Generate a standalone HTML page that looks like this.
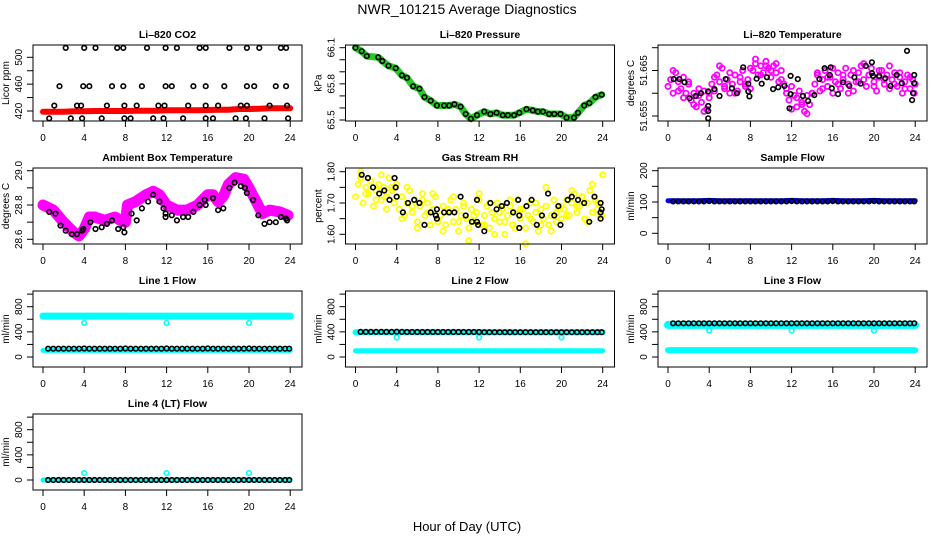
<!DOCTYPE html>
<html><head><meta charset="utf-8">
<style>
html,body{margin:0;padding:0;background:#fff;}
svg{display:block;font-family:"Liberation Sans",sans-serif;}
</style></head>
<body>
<svg id="chart" width="936" height="540" viewBox="0 0 936 540">
<text x="467" y="14" text-anchor="middle" font-size="14">NWR_101215  Average Diagnostics</text>
<text x="467" y="531" text-anchor="middle" font-size="13">Hour of Day (UTC)</text>
</svg>
<script>
// ---- data ----
const xTicks = [0,4,8,12,16,20,24];
const hourly = [0,1,2,3,4,5,6,7,8,9,10,11,12,13,14,15,16,17,18,19,20,21,22,23,24];
const flowHours = [0.5,1,1.5,2,2.5,3,3.5,4,4.5,5,5.5,6,6.5,7,7.5,8,8.5,9,9.5,10,10.5,11,11.5,12,12.5,13,13.5,14,14.5,15,15.5,16,16.5,17,17.5,18,18.5,19,19.5,20,20.5,21,21.5,22,22.5,23,23.5,23.9];
const quarterHours = [0,0.25,0.5,0.75,1,1.25,1.5,1.75,2,2.25,2.5,2.75,3,3.25,3.5,3.75,4,4.25,4.5,4.75,5,5.25,5.5,5.75,6,6.25,6.5,6.75,7,7.25,7.5,7.75,8,8.25,8.5,8.75,9,9.25,9.5,9.75,10,10.25,10.5,10.75,11,11.25,11.5,11.75,12,12.25,12.5,12.75,13,13.25,13.5,13.75,14,14.25,14.5,14.75,15,15.25,15.5,15.75,16,16.25,16.5,16.75,17,17.25,17.5,17.75,18,18.25,18.5,18.75,19,19.25,19.5,19.75,20,20.25,20.5,20.75,21,21.25,21.5,21.75,22,22.25,22.5,22.75,23,23.25,23.5,23.75,24];

// CO2
const co2Red = [419,419,419,419.5,419.5,420,420,420,420,420.5,420.5,420.5,421,421,421,421,421.5,422,422,423,423,423.5,424,424,424];
const co2BlackHours = [2.2,4.0,5.1,7.2,7.8,10.1,11.9,13.0,15.2,15.8,18.1,19.8,21.0,23.1,23.6, 1.6,3.9,4.5,6.7,7.8,9.6,11.9,12.5,14.6,15.8,17.6,19.8,20.5,22.6,23.6, 1.1,3.3,3.7,6.2,7.9,9.1,11.2,11.8,14.1,15.8,17.0,19.2,19.8,22.0,23.7, 0.6,2.7,3.8,5.7,7.9,8.5,10.7,11.7,13.6,15.8,16.5,18.7,19.7,21.5,23.8];
const co2BlackValues = [514,514,514,514,514,514,514,514,514,514,514,514,514,514,514, 457,457,457,457,457,457,457,457,457,457,457,457,457,457,457, 428,428,428,428,428,428,428,428,428,428,428,428,428,428,428, 409,409,409,409,409,409,409,409,409,409,409,409,409,409,409];

// Pressure
const pressHours = [0,0.6,1.1,2.2,2.6,3.2,3.9,4.5,5.0,5.6,6.2,6.7,7.3,7.9,8.6,9.1,9.6,10.2,10.7,11.2,11.8,12.5,13.1,13.7,14.3,14.8,15.4,15.9,16.6,17.2,17.7,18.2,18.8,19.3,19.9,20.5,21.2,21.6,22.2,22.7,23.3,23.9];
const pressValues = [66.1,66.07,66.03,66.02,65.99,65.95,65.93,65.87,65.85,65.78,65.76,65.69,65.66,65.62,65.62,65.62,65.63,65.61,65.55,65.51,65.54,65.57,65.55,65.56,65.54,65.54,65.54,65.56,65.59,65.58,65.57,65.57,65.55,65.55,65.55,65.52,65.52,65.56,65.62,65.64,65.69,65.71];

// Li-820 temperature
const tempMagenta = [51.6615,51.6630,51.6600,51.6645,51.6625,51.6610,51.6635,51.6600,51.6620,
51.6585,51.6600,51.6570,51.6595,51.6580,51.6605,51.6565,51.6590,
51.6620,51.6605,51.6640,51.6625,51.6655,51.6610,51.6630,51.6600,51.6620,51.6640,51.6605,51.6625,51.6650,51.6615,
51.6630,51.6610,51.6650,51.6665,51.6640,51.6660,51.6645,51.6670,51.6655,51.6635,51.6660,51.6645,51.6625,51.6650,
51.6620,51.6600,51.6585,51.6615,51.6595,51.6570,51.6605,51.6580,51.6560,51.6595,51.6575,51.6600,
51.6620,51.6640,51.6605,51.6630,51.6650,51.6615,51.6635,51.6600,51.6625,51.6645,51.6610,51.6630,51.6655,51.6620,51.6640,51.6605,51.6625,51.6645,51.6660,51.6630,51.6615,51.6640,51.6655,51.6625,51.6605,51.6635,51.6650,51.6620,51.6640,51.6610,51.6630,51.6645,51.6615,51.6635,51.6600,51.6625,51.6640,51.6610,51.6630,51.6620];
const tempMagenta2 = [51.6650,51.6605,51.6590,51.6625,51.6575,51.6610,51.6560,51.6600,
51.6635,51.6660,51.6615,51.6645,51.6600,51.6635,51.6620,
51.6655,51.6675,51.6640,51.6660,51.6650,51.6665,51.6630,
51.6610,51.6565,51.6590,51.6575,51.6555,51.6600,
51.6645,51.6610,51.6635,51.6655,51.6620,51.6640,51.6600,51.6650,51.6625,51.6665,51.6640,51.6615,51.6650,51.6630,51.6660,51.6620,51.6645,51.6610,51.6635,51.6600];
const tempBlackHours = [0.55,1.1,1.6,2.1,2.7,3.2,3.9,3.9,3.9,3.9,4.5,5.0,5.6,6.2,6.7,7.3,7.8,7.8,7.9,8.6,9.1,9.6,10.2,10.7,11.3,11.9,11.9,11.8,12.6,13.1,13.6,14.2,14.7,15.2,15.8,15.7,15.9,16.5,17.0,17.6,18.1,18.7,19.2,19.8,19.8,19.9,20.5,21.1,21.6,22.2,22.7,23.2,23.9,23.9,23.8,23.7];
const tempBlackValues = [51.6631,51.6631,51.6624,51.6589,51.6594,51.6600,51.6604,51.6572,51.6561,51.6545,51.6609,51.6594,51.6631,51.6611,51.6600,51.6657,51.6621,51.6604,51.6593,51.6632,51.6621,51.6635,51.6609,51.6613,51.6616,51.6638,51.6598,51.6567,51.6631,51.6594,51.6583,51.6596,51.6631,51.6655,51.6657,51.6640,51.6611,51.6598,51.6624,51.6616,51.6635,51.6621,51.6660,51.6668,51.6644,51.6638,51.6638,51.6633,51.6616,51.6640,51.6622,51.6693,51.6640,51.6622,51.6600,51.6585];

// Ambient box temperature
const ambHours = [0,1,2,3,3.5,4,4.5,5,6,7,7.5,8,8.2,9,10,10.7,11.3,12,13,14,15,16,16.5,17,17.5,18,18.7,19.5,20,20.7,21.3,22,23,23.8];
const ambValues = [28.80,28.77,28.70,28.64,28.62,28.66,28.73,28.73,28.71,28.73,28.71,28.70,28.80,28.82,28.86,28.88,28.86,28.80,28.77,28.77,28.80,28.86,28.86,28.82,28.85,28.92,28.96,28.95,28.90,28.82,28.75,28.77,28.76,28.74];
const ambBlackHours = [0.6,1.2,1.7,2.2,2.8,3.3,3.8,3.9,4.6,5.1,5.7,6.2,6.7,7.3,7.8,7.9,8.6,9.1,9.6,10.2,10.7,11.3,11.7,11.9,11.9,12.5,13.0,13.6,14.1,14.6,15.2,15.7,15.8,16.5,17.0,17.5,18.1,18.6,19.2,19.6,19.8,20.4,20.9,21.5,22.0,22.6,23.1,23.6,23.7];
const ambBlackValues = [28.76,28.75,28.68,28.65,28.63,28.63,28.65,28.66,28.70,28.66,28.67,28.69,28.71,28.66,28.67,28.64,28.75,28.71,28.78,28.82,28.86,28.82,28.78,28.75,28.73,28.74,28.71,28.73,28.73,28.76,28.80,28.83,28.80,28.84,28.77,28.78,28.90,28.93,28.91,28.90,28.87,28.83,28.74,28.69,28.70,28.70,28.73,28.72,28.71];

// Gas stream RH
const rhYellow = [1.72,1.76,1.78,1.70,1.75,1.73,1.77,1.69,1.74,1.76,1.71,1.75,1.72,1.78,1.74,1.70,1.76,
1.68,1.72,1.66,1.70,1.74,1.67,1.71,1.64,1.69,1.73,1.66,1.70,1.63,1.68,1.72,1.65,
1.66,1.69,1.63,1.67,1.71,1.64,1.68,1.61,1.66,1.70,1.65,1.62,1.68,1.64,1.67,1.71,1.63,1.66,1.69,1.62,1.67,1.65,1.70,1.64,1.68,1.60,1.66,1.69,1.63,1.67,1.71,1.65,1.68,1.62,1.66,1.70,1.64,1.67,1.61,1.68,1.65,1.69,1.63,1.66,1.71,1.64,1.68,1.65,
1.68,1.71,1.66,1.70,1.73,1.67,1.69,1.72,1.65,1.70,1.74,1.67,1.71,1.68,1.66,1.79];
const rhYellow2 = [1.80,1.73,1.77,1.71,1.79,1.68,1.75,1.72,
1.65,1.75,1.69,1.62,1.71,1.67,1.73,1.64,
1.61,1.68,1.72,1.64,1.69,1.58,1.66,1.73,1.63,1.70,1.60,1.67,1.64,1.71,1.62,1.68,1.57,1.65,1.70,1.63,1.75,1.61,1.67,1.69,
1.66,1.74,1.69,1.72,1.64,1.76,1.70,1.66];
const rhBlackHours = [0.6,1.2,1.7,2.3,2.8,3.3,3.8,3.9,4.0,4.6,5.1,5.7,6.2,6.7,7.3,7.9,7.8,7.9,8.6,9.1,9.6,10.2,10.7,11.3,11.8,11.8,11.9,12.5,13.1,13.7,14.2,14.7,15.3,15.8,15.9,15.9,16.6,17.1,17.6,18.1,18.7,19.3,19.7,19.9,20.6,21.0,21.6,22.2,22.7,23.2,23.8,23.8,23.9,23.8];
const rhBlackValues = [1.79,1.78,1.75,1.73,1.74,1.71,1.78,1.75,1.72,1.67,1.70,1.71,1.70,1.63,1.67,1.68,1.66,1.65,1.67,1.67,1.67,1.72,1.66,1.64,1.71,1.64,1.63,1.61,1.70,1.68,1.69,1.70,1.67,1.71,1.66,1.62,1.69,1.71,1.63,1.66,1.73,1.66,1.69,1.63,1.71,1.72,1.71,1.70,1.64,1.72,1.70,1.67,1.68,1.65];

// Sample flow
const sampleBlue = [104,104,104,104,105,104,104,104,104,104,104,104,105,104,104,104,105,104,104,104,105,104,104,104,104];
const sampleBlack = [102,102,102,102,102,102,102,103,102,102,102,102,102,102,102,102,102,102,102,102,102,102,102,103,102,102,102,102,102,102,102,103,102,102,102,102,102,102,102,103,102,102,102,102,102,102,102,102];

// Line flows
const line1CyanHigh = [650,650,650,650,650,650,650,650,650,650,650,650,650,650,650,650,650,650,650,650,650,650,650,650,650];
const line1CyanLow = [105,105,105,105,105,105,105,105,105,105,105,105,105,105,105,105,105,105,105,105,105,105,105,105,105];
const line1Black = [132,132,132,132,132,132,132,135,132,132,132,132,132,132,132,135,132,132,132,132,132,132,132,135,132,132,132,132,132,132,132,135,132,132,132,132,132,132,132,135,132,132,132,132,132,132,132,132];
const outlierHours = [4,12,20];
const line1Outliers = [540,540,540];
const line2CyanHigh = [395,395,395,395,395,395,395,395,395,395,395,395,395,395,395,395,395,395,395,395,395,395,395,395,395];
const line2CyanLow = [100,100,100,100,100,100,100,100,100,100,100,100,100,100,100,100,100,100,100,100,100,100,100,100,100];
const line2Black = [400,400,400,400,400,400,400,402,400,398,398,398,398,398,398,398,398,398,398,398,398,398,398,398,395,395,395,395,395,395,395,395,395,395,395,395,395,395,395,395,395,395,395,395,395,395,395,395];
const line2Outliers = [310,310,310];
const line3CyanHigh = [510,510,510,510,510,510,510,510,510,510,510,510,510,510,510,510,510,510,510,510,510,510,510,510,510];
const line3CyanLow = [110,110,110,110,110,110,110,110,110,110,110,110,110,110,110,110,110,110,110,110,110,110,110,110,110];
const line3Black = [536,536,536,536,536,536,536,536,536,536,536,536,536,536,536,536,536,536,536,536,536,536,536,536,536,536,536,536,536,536,536,536,536,536,536,536,536,536,536,536,536,536,536,536,536,536,536,536];
const line3Outliers = [420,420,420];
const line4Cyan = [0,0,0,0,0,0,0,0,0,0,0,0,0,0,0,0,0,0,0,0,0,0,0,0,0];
const line4Black = [0,0,0,0,0,0,0,0,0,0,0,0,0,0,0,0,0,0,0,0,0,0,0,0,0,0,0,0,0,0,0,0,0,0,0,0,0,0,0,0,0,0,0,0,0,0,0,0];
const line4Outliers = [110,110,110];

const NS = 'http://www.w3.org/2000/svg';
const svg = document.getElementById('chart');
function mk(tag, attrs, parent){const e=document.createElementNS(NS,tag);for(const k in attrs)e.setAttribute(k,attrs[k]);(parent||svg).appendChild(e);return e;}

function panel(opt){
  const left = 33 + 312.5*opt.col, top = 45 + 123*opt.row, W = 269, H = 76, bottom = top+H;
  const x0 = left + 10;
  const xs = h => x0 + h*10.3;
  const rowOff = 123*opt.row;
  const ys = v => (opt.y0px+rowOff) + (v-opt.v0)*((opt.y1px-opt.y0px)/(opt.v1-opt.v0));
  const g = mk('g',{});
  
  
  const t = mk('text',{x:left+W/2,y:top-7,'text-anchor':'middle','font-size':'10.5','font-weight':'bold'},g);
  t.textContent = opt.title;
  
  
  const marks = mk('g',{},g);
  
  
  (opt.series||[]).forEach(s=>{
    if(s.band){
      const d = s.x.map((h,i)=>(i?'L':'M')+xs(h).toFixed(1)+' '+ys(s.y[i]).toFixed(1)).join(' ');
      const p = mk('path',{d:d,fill:'none',stroke:s.color,'stroke-width':s.width,'stroke-linejoin':'round','stroke-linecap':'round'},marks);
      
      
    }
    if(s.pts){
      s.x.forEach((h,i)=>{
        const c = mk('circle',{cx:xs(h).toFixed(1),cy:ys(s.y[i]).toFixed(1),r:s.r||2.3,fill:'none',stroke:s.color,'stroke-width':s.sw||1.6},marks);
        
        
      });
    }
  });
  const b = mk('rect',{x:left,y:top,width:W,height:H,fill:'none',stroke:'#000','stroke-width':1},g);
  
  
  const xa = mk('g',{},g);
  
  
  mk('line',{x1:xs(0),x2:xs(24),y1:bottom,y2:bottom,stroke:'#000'},xa);
  xTicks.forEach(v=>{
    mk('line',{x1:xs(v),x2:xs(v),y1:bottom,y2:bottom+6,stroke:'#000'},xa);
    const l = mk('text',{x:xs(v),y:bottom+20,'text-anchor':'middle','font-size':'10'},xa);
    l.textContent = v;
  });
  const ya = mk('g',{},g);
  
  
  const tk = opt.ticks;
  mk('line',{x1:left,x2:left,y1:ys(tk[0]),y2:ys(tk[tk.length-1]),stroke:'#000'},ya);
  tk.forEach(v=>mk('line',{x1:left-6,x2:left,y1:ys(v),y2:ys(v),stroke:'#000'},ya));
  opt.labels.forEach((lab,i)=>{
    const v = opt.labelVals[i], y = ys(v), x = left-11;
    const l = mk('text',{x:x,y:y,'text-anchor':'middle','font-size':'10',transform:`rotate(-90 ${x} ${y})`},ya);
    l.textContent = lab;
  });
  const yl = mk('text',{x:left-24,y:top+H/2,'text-anchor':'middle','font-size':'10',transform:`rotate(-90 ${left-24} ${top+H/2})`},g);
  yl.textContent = opt.ylab;
  
  
}

const K='#000', C='#00ffff';
panel({name:'co2-panel',title:'Li\u2013820 CO2',col:0,row:0,ylab:'Licor ppm',v0:420,y0px:111,v1:500,y1px:57.3,
  ticks:[420,440,460,480,500],labels:['420','460','500'],labelVals:[420,460,500],
  series:[{name:'co2-red',band:true,pts:false,x:hourly,y:co2Red,color:'#ff0000',width:6},
          {name:'co2-black',pts:true,x:co2BlackHours,y:co2BlackValues,color:K}]});
panel({name:'pressure-panel',title:'Li\u2013820 Pressure',col:1,row:0,ylab:'kPa',v0:65.5,y0px:120,v1:66.1,y1px:47.7,
  ticks:[65.5,65.6,65.7,65.8,65.9,66.0,66.1],labels:['65.5','65.8','66.1'],labelVals:[65.5,65.8,66.1],
  series:[{name:'pressure-green',band:true,x:pressHours,y:pressValues,color:'#22cc22',width:7},
          {name:'pressure-black',pts:true,x:pressHours,y:pressValues,color:K}]});
panel({name:'temperature-panel',title:'Li\u2013820 Temperature',col:2,row:0,ylab:'degrees C',v0:51.655,y0px:116,v1:51.670,y1px:47.7,
  ticks:[51.655,51.660,51.665,51.670],labels:['51.655','51.665'],labelVals:[51.655,51.665],
  series:[{name:'temperature-magenta',pts:true,x:quarterHours,y:tempMagenta,color:'#ff00ff',r:2.6,sw:1.8},
          {name:'temperature-magenta-b',pts:true,x:flowHours,y:tempMagenta2,color:'#ff00ff',r:2.6,sw:1.8},
          {name:'temperature-black',pts:true,x:tempBlackHours,y:tempBlackValues,color:K}]});
panel({name:'ambient-panel',title:'Ambient Box Temperature',col:0,row:1,ylab:'degrees C',v0:28.6,y0px:239.3-123,v1:29.0,y1px:170.7-123,
  ticks:[28.6,28.7,28.8,28.9,29.0],labels:['28.6','28.8','29.0'],labelVals:[28.6,28.8,29.0],
  series:[{name:'ambient-magenta',band:true,x:ambHours,y:ambValues,color:'#ff00ff',width:11},
          {name:'ambient-black',pts:true,x:ambBlackHours,y:ambBlackValues,color:K}]});
panel({name:'rh-panel',title:'Gas Stream RH',col:1,row:1,ylab:'percent',v0:1.60,y0px:234.3-123,v1:1.80,y1px:171.7-123,
  ticks:[1.60,1.65,1.70,1.75,1.80],labels:['1.60','1.70','1.80'],labelVals:[1.60,1.70,1.80],
  series:[{name:'rh-yellow',pts:true,x:quarterHours,y:rhYellow,color:'#ffff00',r:2.6,sw:1.8},
          {name:'rh-yellow-b',pts:true,x:flowHours,y:rhYellow2,color:'#ffff00',r:2.6,sw:1.8},
          {name:'rh-black',pts:true,x:rhBlackHours,y:rhBlackValues,color:K}]});
panel({name:'sample-flow-panel',title:'Sample Flow',col:2,row:1,ylab:'ml/min',v0:0,y0px:233.3-123,v1:200,y1px:170.7-123,
  ticks:[0,50,100,150,200],labels:['0','100','200'],labelVals:[0,100,200],
  series:[{name:'sample-blue',band:true,x:hourly,y:sampleBlue,color:'#0000ff',width:5},
          {name:'sample-black',pts:true,x:flowHours,y:sampleBlack,color:K}]});
const flowTicks=[0,200,400,600,800,1000];
function flow(name,title,col,row,series){
  panel({name:name,title:title,col:col,row:row,ylab:'ml/min',v0:0,y0px:357-246,v1:800,y1px:306.7-246,
    ticks:flowTicks,labels:['0','400','800'],labelVals:[0,400,800],series:series});
}
flow('line1-panel','Line 1 Flow',0,2,[
  {name:'line1-cyan-high',band:true,x:hourly,y:line1CyanHigh,color:C,width:7},
  {name:'line1-cyan-low',band:true,x:hourly,y:line1CyanLow,color:C,width:5},
  {name:'line1-cyan-outlier',pts:true,x:outlierHours,y:line1Outliers,color:C},
  {name:'line1-black',pts:true,x:flowHours,y:line1Black,color:K}]);
flow('line2-panel','Line 2 Flow',1,2,[
  {name:'line2-cyan-high',band:true,x:hourly,y:line2CyanHigh,color:C,width:6},
  {name:'line2-cyan-low',band:true,x:hourly,y:line2CyanLow,color:C,width:5},
  {name:'line2-cyan-outlier',pts:true,x:outlierHours,y:line2Outliers,color:C},
  {name:'line2-black',pts:true,x:flowHours,y:line2Black,color:K}]);
flow('line3-panel','Line 3 Flow',2,2,[
  {name:'line3-cyan-high',band:true,x:hourly,y:line3CyanHigh,color:C,width:8},
  {name:'line3-cyan-low',band:true,x:hourly,y:line3CyanLow,color:C,width:6},
  {name:'line3-cyan-outlier',pts:true,x:outlierHours,y:line3Outliers,color:C},
  {name:'line3-black',pts:true,x:flowHours,y:line3Black,color:K}]);
flow('line4-panel','Line 4 (LT) Flow',0,3,[
  {name:'line4-cyan',band:true,x:hourly,y:line4Cyan,color:C,width:5},
  {name:'line4-cyan-outlier',pts:true,x:outlierHours,y:line4Outliers,color:C},
  {name:'line4-black',pts:true,x:flowHours,y:line4Black,color:K}]);
</script>
</body></html>
